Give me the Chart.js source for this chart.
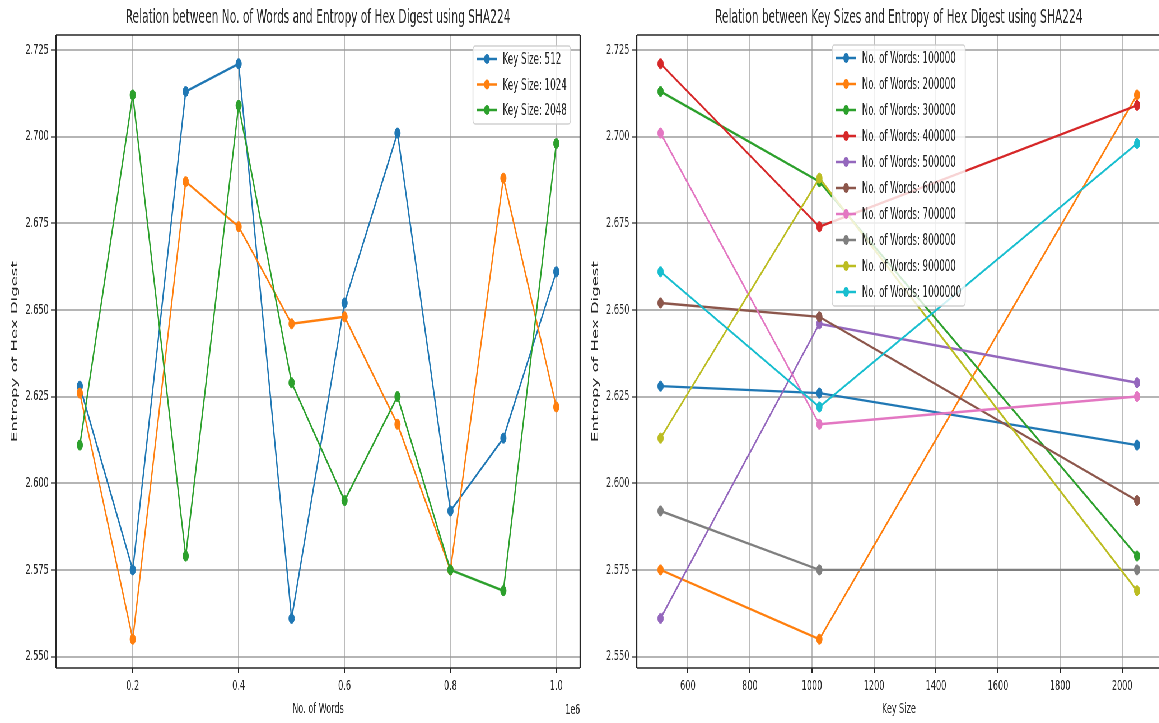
<!DOCTYPE html>
<html>
<head>
<meta charset="utf-8">
<script src="https://cdn.jsdelivr.net/npm/chart.js@4.4.1/dist/chart.umd.min.js"></script>
<style>
  html, body { margin: 0; padding: 0; overflow: hidden; background: #fff; }
  /* both panels are drawn wide and then squeezed horizontally */
  #stage {
    position: absolute; left: 0; top: 0;
    width: 2100px; height: 723px;
    transform: scaleX(0.56); transform-origin: 0 0;
  }
  .panel { position: absolute; top: 0; width: 1042px; height: 723px; }
</style>
</head>
<body>
<div id="stage">
  <div class="panel" style="left:0"><canvas id="words-chart"></canvas></div>
  <div class="panel" style="left:1037px"><canvas id="keys-chart"></canvas></div>
</div>
<script>
const WORD_COUNTS = [100000, 200000, 300000, 400000, 500000, 600000, 700000, 800000, 900000, 1000000];
const KEY_SIZES = [512, 1024, 2048];

// entropy per word count, one array per key size
const ENTROPY_512 = [2.628, 2.575, 2.713, 2.721, 2.561, 2.652, 2.701, 2.592, 2.613, 2.661];
const ENTROPY_1024 = [2.626, 2.555, 2.687, 2.674, 2.646, 2.648, 2.617, 2.575, 2.688, 2.622];
const ENTROPY_2048 = [2.611, 2.712, 2.579, 2.709, 2.629, 2.595, 2.625, 2.575, 2.569, 2.698];

const ENTROPY_TICKS = [2.550, 2.575, 2.600, 2.625, 2.650, 2.675, 2.700, 2.725];
const WORD_TICKS = [200000, 400000, 600000, 800000, 1000000];
const KEY_TICKS = [600, 800, 1000, 1200, 1400, 1600, 1800, 2000];

const COLORS = ['#1f77b4', '#ff7f0e', '#2ca02c', '#d62728', '#9467bd',
                '#8c564b', '#e377c2', '#7f7f7f', '#bcbd22', '#17becf'];

const FONT = 'DejaVu Sans';
const INK = '#262626';
Chart.defaults.font.family = FONT;
Chart.defaults.color = INK;

// matplotlib style autoscale: 5% margin on each side
function padRange(values) {
  const lo = Math.min(...values), hi = Math.max(...values);
  const m = (hi - lo) * 0.05;
  return [lo - m, hi + m];
}

const byKey = [ENTROPY_512, ENTROPY_1024, ENTROPY_2048];
const [yMin, yMax] = padRange(byKey.flat());

function line(ctx, x1, y1, x2, y2) {
  ctx.beginPath();
  ctx.moveTo(x1, y1);
  ctx.lineTo(x2, y2);
  ctx.stroke();
}

// axes frame + boxed legend inside the plot, plus the axis offset text
const frameAndLegend = {
  id: 'frameAndLegend',
  afterDatasetsDraw(chart, args, opts) {
    const { ctx, chartArea: a } = chart;
    ctx.save();
    ctx.strokeStyle = INK;
    ctx.lineWidth = 1.3;
    line(ctx, a.left, a.top, a.right, a.top);
    line(ctx, a.left, a.bottom, a.right, a.bottom);
    ctx.lineWidth = 2.3;
    line(ctx, a.left, a.top, a.left, a.bottom);
    line(ctx, a.right, a.top, a.right, a.bottom);

    const sets = chart.data.datasets;
    ctx.font = `${opts.size}px "${FONT}"`;
    const textW = Math.max(...sets.map(d => ctx.measureText(d.label).width));
    const pad = 7, handle = 36, gap = 10;
    const w = pad + handle + gap + textW + pad;
    const h = 13 + (sets.length - 1) * opts.rowGap + 14;
    const x = opts.right != null ? a.right - opts.right - w : a.left + opts.left;
    const y = a.top + opts.top;

    ctx.beginPath();
    ctx.roundRect(x, y, w, h, 4);
    ctx.fillStyle = 'rgba(255,255,255,0.8)';
    ctx.fill();
    ctx.strokeStyle = 'rgba(204,204,204,0.9)';
    ctx.lineWidth = 1.5;
    ctx.stroke();

    sets.forEach((d, i) => {
      const cy = y + 13 + i * opts.rowGap;
      const hx = x + pad;
      ctx.strokeStyle = d.borderColor;
      ctx.lineWidth = 2.4;
      line(ctx, hx, cy, hx + handle, cy);
      ctx.fillStyle = d.borderColor;
      ctx.beginPath();
      ctx.arc(hx + handle / 2, cy, 5, 0, Math.PI * 2);
      ctx.fill();
      ctx.fillStyle = INK;
      ctx.textAlign = 'left';
      ctx.textBaseline = 'middle';
      ctx.fillText(d.label, hx + handle + gap, cy + 1);
    });

    if (opts.offsetText) {
      ctx.font = `14px "${FONT}"`;
      ctx.textAlign = 'right';
      ctx.textBaseline = 'middle';
      ctx.fillText(opts.offsetText, a.right, 710);
    }
    ctx.restore();
  }
};

function makeOptions(cfg) {
  return {
    responsive: true,
    maintainAspectRatio: false,
    animation: false,
    layout: { padding: { left: 0, right: 4, top: 0, bottom: 0 } },
    elements: {
      line: { borderWidth: 2.4, tension: 0 },
      point: { radius: 5, borderWidth: 1, hoverRadius: 5 }
    },
    scales: {
      x: {
        type: 'linear',
        min: cfg.xRange[0],
        max: cfg.xRange[1],
        afterBuildTicks: s => { s.ticks = cfg.xTicks.map(v => ({ value: v })); },
        afterFit: s => { s.height = 55; },
        ticks: {
          autoSkip: false, maxRotation: 0, padding: 5,
          font: { size: 14.5 },
          callback: cfg.xFormat
        },
        grid: { color: 'rgba(176,176,176,0.85)', lineWidth: 2, tickLength: 5, tickColor: INK, tickWidth: 2 },
        border: { display: false },
        title: { display: true, text: cfg.xTitle, font: { size: 14.5 }, padding: { top: 0, bottom: 4.6 } }
      },
      y: {
        type: 'linear',
        min: yMin,
        max: yMax,
        afterBuildTicks: s => { s.ticks = ENTROPY_TICKS.map(v => ({ value: v })); },
        afterFit: s => { s.width = 100; },
        ticks: {
          autoSkip: false, padding: 4,
          font: { size: 14.5 },
          callback: v => v.toFixed(3)
        },
        grid: { color: 'rgba(150,150,150,0.7)', lineWidth: 2, tickLength: 9, tickColor: INK, tickWidth: 1.2 },
        border: { display: false },
        title: { display: true, text: 'Entropy of Hex Digest', font: { size: 16.5 }, padding: { top: 17, bottom: 0 } }
      }
    },
    plugins: {
      legend: { display: false },
      tooltip: { enabled: false },
      title: {
        display: true,
        text: cfg.title,
        fullSize: false,
        color: INK,
        font: { size: 19, weight: 'normal' },
        padding: { top: 7, bottom: 5.2 }
      },
      frameAndLegend: cfg.legend
    }
  };
}

function series(label, color, points, order) {
  return {
    label: label,
    data: points,
    borderColor: color,
    backgroundColor: color,
    pointBackgroundColor: color,
    pointBorderColor: color,
    order: order
  };
}

// left: entropy against number of words, one line per key size
const wordSets = KEY_SIZES.map((k, j) =>
  series(`Key Size: ${k}`, COLORS[j],
    WORD_COUNTS.map((n, i) => ({ x: n, y: byKey[j][i] })), KEY_SIZES.length - j));

new Chart(document.getElementById('words-chart').getContext('2d'), {
  type: 'line',
  data: { datasets: wordSets },
  options: makeOptions({
    title: 'Relation between No. of Words and Entropy of Hex Digest using SHA224',
    xTitle: 'No. of Words',
    xRange: padRange(WORD_COUNTS),
    xTicks: WORD_TICKS,
    xFormat: v => (v / 1e6).toFixed(1),
    legend: { size: 15.5, right: 17, top: 11, rowGap: 25.5, offsetText: '1e6' }
  }),
  plugins: [frameAndLegend]
});

// right: entropy against key size, one line per word count
const keySets = WORD_COUNTS.map((n, i) =>
  series(`No. of Words: ${n}`, COLORS[i],
    KEY_SIZES.map((k, j) => ({ x: k, y: byKey[j][i] })), WORD_COUNTS.length - i));

new Chart(document.getElementById('keys-chart').getContext('2d'), {
  type: 'line',
  data: { datasets: keySets },
  options: makeOptions({
    title: 'Relation between Key Sizes and Entropy of Hex Digest using SHA224',
    xTitle: 'Key Size',
    xRange: padRange(KEY_SIZES),
    xTicks: KEY_TICKS,
    xFormat: v => String(v),
    legend: { size: 15.5, left: 349, top: 10, rowGap: 26 }
  }),
  plugins: [frameAndLegend]
});
</script>
</body>
</html>
